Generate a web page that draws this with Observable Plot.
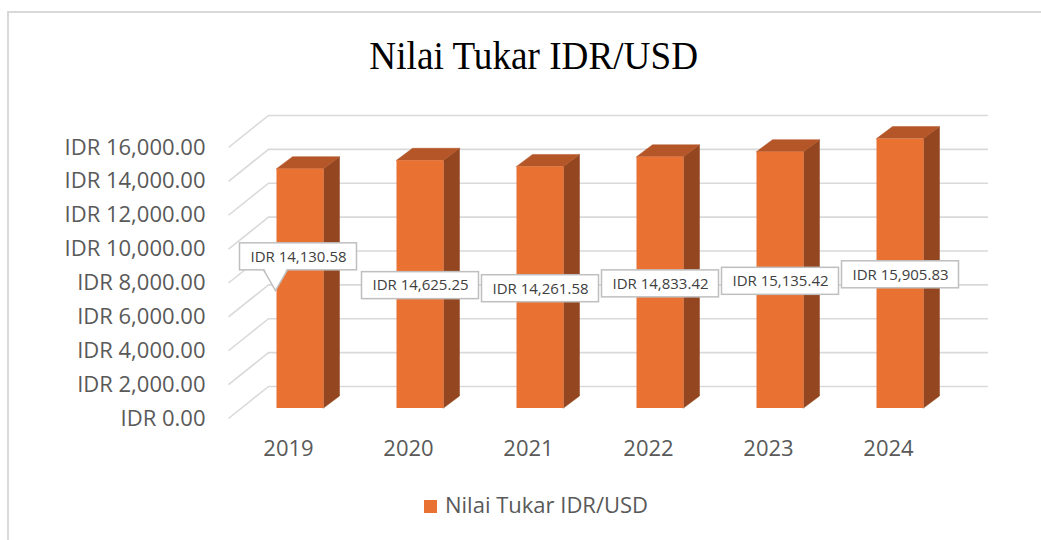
<!DOCTYPE html>
<html>
<head>
<meta charset="utf-8">
<script src="https://cdn.jsdelivr.net/npm/d3@7"></script>
<script src="https://cdn.jsdelivr.net/npm/@observablehq/plot@0.6"></script>
<style>
  html, body { margin: 0; padding: 0; background: #fff; }
  #wrap { position: relative; width: 1041px; height: 540px; overflow: hidden; background: #fff; }
  #frame { position: absolute; left: 7px; top: 11px; width: 1100px; height: 600px; border: 2px solid #d9d9d9; box-sizing: border-box; }
  #title { position: absolute; left: 0; top: 34px; width: 1068px; text-align: center; font-family: "Liberation Serif", "Times New Roman", serif; font-size: 40px; line-height: 44px; color: #000; }
  #title span { display: inline-block; transform: scaleX(0.93); }
  #chart { position: absolute; left: 0; top: 0; }
  #legend { position: absolute; left: 424px; top: 489px; height: 30px; font-family: "Open Sans", sans-serif; font-size: 22px; line-height: 30px; color: #595959; white-space: nowrap; }
  #legend .sw { position: absolute; left: 0; top: 11px; width: 13px; height: 13px; background: #E97132; }
  #legend .lab { position: absolute; left: 21px; top: 0; }
</style>
</head>
<body>
<div id="wrap">
  <div id="frame"></div>
  <div id="chart"></div>
  <div id="title"><span>Nilai Tukar IDR/USD</span></div>
  <div id="legend"><div class="sw"></div><div class="lab">Nilai Tukar IDR/USD</div></div>
</div>
<script>
// ---- data ----
const years = ["2019", "2020", "2021", "2022", "2023", "2024"];
const values = [14130.58, 14625.25, 14261.58, 14833.42, 15135.42, 15905.83];
const yTicks = [0, 2000, 4000, 6000, 8000, 10000, 12000, 14000, 16000];
const seriesName = "Nilai Tukar IDR/USD";

// ---- layout / style ----
const xRange = [228, 948];
const yRange = [418, 147];
const pxPerX = (xRange[1] - xRange[0]) / years.length;
const pxPerY = (yRange[0] - yRange[1]) / (yTicks[yTicks.length - 1] - yTicks[0]);
const barOff = [12, -10];     // front face of bars relative to axis plane (px)
const barDepth = [16, -12];   // depth of bars (px)
const wallOff = [40, -32];    // back wall relative to axis plane (px)
const hw = 23.5 / pxPerX;     // half bar width in x units
const ddx = barDepth[0] / pxPerX;
const ddy = -barDepth[1] / pxPerY;

const fmt = v => "IDR " + d3.format(",.2f")(v);

const data = years.map((y, i) => ({year: y, i, value: values[i]}));
const sidePts = data.flatMap(d => [
  {year: d.year, x: d.i + hw, y1: 0, y2: d.value},
  {year: d.year, x: d.i + hw + ddx, y1: ddy, y2: d.value + ddy}
]);
const topPts = data.flatMap(d => [
  {year: d.year, y: d.value, x1: d.i - hw, x2: d.i + hw},
  {year: d.year, y: d.value + ddy, x1: d.i - hw + ddx, x2: d.i + hw + ddx}
]);
const callout = data.filter(d => d.i === 0);
const plain = data.filter(d => d.i !== 0);

const front = "#E97132", topC = "#B55629", sideC = "#944620";
const grid = "#d9d9d9";

const chart = Plot.plot({
  width: 1041,
  height: 540,
  margin: 0,
  style: {fontFamily: "'Open Sans', sans-serif", background: "transparent", overflow: "visible"},
  x: {domain: [-0.5, years.length - 0.5], range: xRange, axis: null},
  y: {domain: [yTicks[0], yTicks[yTicks.length - 1]], range: yRange, axis: null},
  marks: [
    // back wall gridlines
    Plot.ruleY(yTicks, {y: d => d, x1: -0.5, x2: years.length - 0.5, dx: wallOff[0], dy: wallOff[1], stroke: grid, strokeWidth: 1.6}),
    // side wall diagonals
    Plot.link(yTicks, {x1: -0.5, y1: d => d, x2: -0.5 + wallOff[0] / pxPerX, y2: d => d - wallOff[1] / pxPerY, stroke: grid, strokeWidth: 1.6}),
    // bars: side, top, front
    Plot.areaY(sidePts, {x: "x", y1: "y1", y2: "y2", z: "year", fill: sideC, stroke: sideC, strokeWidth: 0.5, dx: barOff[0], dy: barOff[1]}),
    Plot.areaX(topPts, {y: "y", x1: "x1", x2: "x2", z: "year", fill: topC, stroke: topC, strokeWidth: 0.5, dx: barOff[0], dy: barOff[1]}),
    Plot.rectY(data, {x1: d => d.i - hw, x2: d => d.i + hw, y1: 0, y2: "value", fill: front, dx: barOff[0], dy: barOff[1]}),
    // data label boxes
    Plot.rect(plain, {x1: "i", x2: "i", y1: d => d.value / 2, y2: d => d.value / 2,
      insetLeft: -58.5, insetRight: -58.5, insetTop: -13.5, insetBottom: -13.5,
      fill: "white", stroke: "#bfbfbf", strokeWidth: 1.5, dx: barOff[0], dy: barOff[1] + 1}),
    Plot.text(plain, {x: "i", y: d => d.value / 2, text: d => fmt(d.value), fontSize: 15, fill: "#404040", dx: barOff[0], dy: barOff[1] + 1}),
    // callout label (2019)
    Plot.rect(callout, {x1: "i", x2: "i", y1: d => d.value / 2, y2: d => d.value / 2,
      insetLeft: -58.5, insetRight: -58.5, insetTop: -13.5, insetBottom: -13.5,
      fill: "white", stroke: "#bfbfbf", strokeWidth: 1.5, dx: barOff[0] - 2, dy: barOff[1] - 32}),
    Plot.dot(callout, {x: "i", y: d => d.value / 2, symbol: "triangle", rotate: 180, r: 8.5,
      fill: "white", stroke: "#bfbfbf", strokeWidth: 1.5, dx: -13, dy: -21.5}),
    Plot.dot(callout, {x: "i", y: d => d.value / 2, symbol: "triangle", rotate: 180, r: 8.5,
      fill: "white", stroke: "none", dx: -13, dy: -23.8}),
    Plot.text(callout, {x: "i", y: d => d.value / 2, text: d => fmt(d.value), fontSize: 15, fill: "#404040", dx: barOff[0] - 2, dy: barOff[1] - 32}),
    // y axis labels
    Plot.text(yTicks, {x: -0.5, y: d => d, text: d => fmt(d), textAnchor: "end", dx: -23, fontSize: 22, fill: "#595959"}),
    // x axis labels
    Plot.text(data, {x: "i", y: 0, text: "year", dy: 30.5, fontSize: 22, fill: "#595959"})
  ]
});
document.getElementById("chart").appendChild(chart);
</script>
</body>
</html>
